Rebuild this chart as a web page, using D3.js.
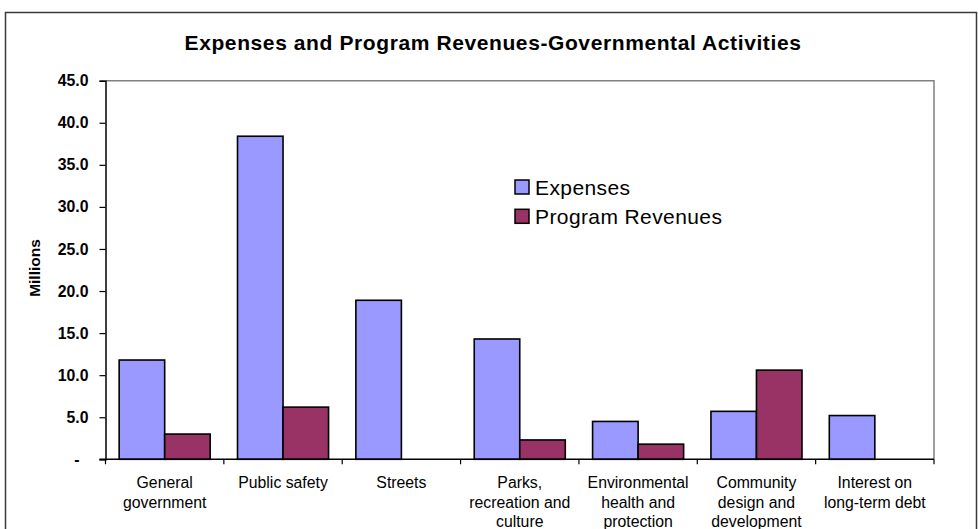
<!DOCTYPE html>
<html>
<head>
<meta charset="utf-8">
<script src="https://cdn.jsdelivr.net/npm/d3@7/dist/d3.min.js"></script>
<style>
  html, body { margin: 0; padding: 0; background: #fff; }
  svg { display: block; font-family: "Liberation Sans", Arial, Helvetica, sans-serif; }
</style>
</head>
<body>
<svg id="chart" width="978" height="529"></svg>
<script>
// Governmental activities, in millions
const categories = [
  "General government",
  "Public safety",
  "Streets",
  "Parks, recreation and culture",
  "Environmental health and protection",
  "Community design and development",
  "Interest on long-term debt"
];
// Wrapped axis labels (one entry per category)
const categoryLines = [
  ["General", "government"],
  ["Public safety"],
  ["Streets"],
  ["Parks,", "recreation and", "culture"],
  ["Environmental", "health and", "protection"],
  ["Community", "design and", "development"],
  ["Interest on", "long-term debt"]
];
const seriesNames = ["Expenses", "Program Revenues"];
const expenses = [11.8, 38.4, 18.9, 14.3, 4.5, 5.7, 5.2];
const programRevenues = [3.0, 6.2, 0, 2.3, 1.8, 10.6, 0];
const yTicks = [0, 5, 10, 15, 20, 25, 30, 35, 40, 45];
const titleText = "Expenses and Program Revenues-Governmental Activities";
const yAxisTitle = "Millions";

const colors = { "Expenses": "#9999FF", "Program Revenues": "#993366" };

const svg = d3.select("#chart");

// chart frame
svg.append("rect")
  .attr("x", 5.5).attr("y", 12.5)
  .attr("width", 971).attr("height", 540)
  .attr("fill", "#fff")
  .attr("stroke", "#3a3a3a").attr("stroke-width", 1.5);

const plot = { left: 105.5, right: 934, top: 80.7, bottom: 459.3 };

const x = d3.scaleBand()
  .domain(categories)
  .range([plot.left, plot.right])
  .padding(0);

const xInner = d3.scaleBand()
  .domain(seriesNames)
  .range([0, x.bandwidth()])
  .paddingInner(0)
  .paddingOuter(0.3);

const y = d3.scaleLinear()
  .domain([0, 45])
  .range([plot.bottom, plot.top]);

// plot area border (top and right)
svg.append("path")
  .attr("d", `M${plot.left},${plot.top}H${plot.right}V${plot.bottom}`)
  .attr("fill", "none")
  .attr("stroke", "#808080").attr("stroke-width", 1.5);

// title
svg.append("text")
  .attr("x", 493).attr("y", 49.5)
  .attr("text-anchor", "middle")
  .attr("font-size", 21).attr("font-weight", "bold")
  .attr("letter-spacing", 0.6)
  .attr("fill", "#000")
  .text(titleText);

// bars
const rows = categories.map((c, i) => ({
  category: c,
  values: [
    { key: "Expenses", value: expenses[i] },
    { key: "Program Revenues", value: programRevenues[i] }
  ]
}));

const groups = svg.append("g").selectAll("g")
  .data(rows)
  .join("g")
  .attr("transform", d => `translate(${x(d.category)},0)`);

groups.selectAll("rect")
  .data(d => d.values.filter(v => v.value > 0))
  .join("rect")
  .attr("x", d => xInner(d.key))
  .attr("y", d => y(d.value))
  .attr("width", xInner.bandwidth())
  .attr("height", d => y(0) - y(d.value))
  .attr("fill", d => colors[d.key])
  .attr("stroke", "#000")
  .attr("stroke-width", 1.6);

// y axis
const yAxis = d3.axisLeft(y)
  .tickValues(yTicks)
  .tickSize(6)
  .tickPadding(11)
  .tickFormat(d => d === 0 ? "-" : d3.format(".1f")(d));

const yAxisG = svg.append("g")
  .attr("transform", `translate(${plot.left},0)`)
  .call(yAxis);
yAxisG.select(".domain").attr("stroke", "#000").attr("stroke-width", 1.5);
yAxisG.selectAll(".tick line").attr("stroke", "#000").attr("stroke-width", 1.2);
yAxisG.selectAll(".tick text")
  .attr("font-family", "'Liberation Sans', Arial, sans-serif")
  .attr("font-size", 15.8).attr("font-weight", "bold")
  .attr("fill", "#000");
yAxisG.selectAll(".tick text")
  .filter(d => d === 0)
  .attr("dx", -9);

// x axis: line plus ticks at category boundaries
const boundaries = categories.map(c => x(c)).concat([plot.right]);
svg.append("line")
  .attr("x1", plot.left - 6).attr("x2", plot.right)
  .attr("y1", plot.bottom).attr("y2", plot.bottom)
  .attr("stroke", "#000").attr("stroke-width", 1.5);
svg.append("g").selectAll("line")
  .data(boundaries)
  .join("line")
  .attr("x1", d => d).attr("x2", d => d)
  .attr("y1", plot.bottom).attr("y2", plot.bottom + 5)
  .attr("stroke", "#000").attr("stroke-width", 1.2);

// category labels
const labelG = svg.append("g");
categories.forEach((c, i) => {
  const t = labelG.append("text")
    .attr("x", x(c) + x.bandwidth() / 2)
    .attr("y", 488)
    .attr("text-anchor", "middle")
    .attr("font-size", 15.8)
    .attr("fill", "#000");
  categoryLines[i].forEach((line, j) => {
    t.append("tspan")
      .attr("x", x(c) + x.bandwidth() / 2)
      .attr("dy", j === 0 ? 0 : 19.5)
      .text(line);
  });
});

// y axis title
svg.append("text")
  .attr("transform", "translate(40,268) rotate(-90)")
  .attr("text-anchor", "middle")
  .attr("font-size", 15.5).attr("font-weight", "bold")
  .attr("fill", "#000")
  .text(yAxisTitle);

// legend
const legend = svg.append("g").attr("transform", "translate(515,180)");
seriesNames.forEach((name, i) => {
  const row = legend.append("g").attr("transform", `translate(0,${i * 29.3})`);
  row.append("rect")
    .attr("width", 14).attr("height", 14)
    .attr("fill", colors[name])
    .attr("stroke", "#000").attr("stroke-width", 1.5);
  row.append("text")
    .attr("x", 20).attr("y", 14.5)
    .attr("font-size", 21)
    .attr("letter-spacing", 0.4)
    .attr("fill", "#000")
    .text(name);
});
</script>
</body>
</html>
